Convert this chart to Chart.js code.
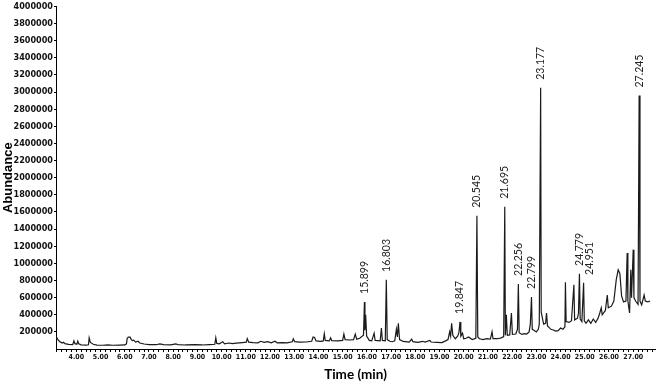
<!DOCTYPE html>
<html>
<head>
<meta charset="utf-8">
<script src="https://cdn.jsdelivr.net/npm/chart.js@4/dist/chart.umd.min.js"></script>
<style>
  html, body { margin: 0; padding: 0; background: #fff; }
  canvas { display: block; }
</style>
</head>
<body>
<canvas id="tic" width="658" height="385"></canvas>
<script>
// retention time (min) and abundance
const rtMin = [
  3.16, 3.22, 3.28, 3.35, 3.42, 3.47, 3.53, 3.68, 3.85, 3.90, 3.94, 4.02, 4.06, 4.10, 4.20, 4.40,
  4.50, 4.53, 4.58, 4.70, 4.85, 5.10, 5.30, 5.50, 5.80, 6.00, 6.07, 6.10, 6.15, 6.22, 6.27, 6.32,
  6.37, 6.45, 6.55, 6.62, 6.80, 7.00, 7.30, 7.45, 7.60, 7.90, 8.10, 8.20, 8.50, 8.90, 9.20, 9.50,
  9.72, 9.76, 9.80, 9.90, 10.05, 10.12, 10.30, 10.45, 10.60, 10.85, 11.02, 11.06, 11.12, 11.30,
  11.50, 11.62, 11.75, 11.90, 12.05, 12.20, 12.30, 12.50, 12.70, 12.92, 12.96, 13.02, 13.20, 13.50,
  13.72, 13.78, 13.84, 13.90, 14.10, 14.20, 14.24, 14.28, 14.45, 14.50, 14.55, 14.80, 15.00, 15.05,
  15.10, 15.30, 15.45, 15.52, 15.58, 15.70, 15.86, 15.899, 15.92, 15.95, 15.99, 16.10, 16.20, 16.30,
  16.34, 16.55, 16.60, 16.64, 16.76, 16.803, 16.84, 16.95, 17.05, 17.15, 17.22, 17.26, 17.30, 17.35,
  17.50, 17.75, 17.85, 17.90, 18.10, 18.30, 18.40, 18.60, 18.65, 18.90, 19.10, 19.25, 19.35, 19.42,
  19.46, 19.50, 19.55, 19.65, 19.75, 19.80, 19.847, 19.88, 19.95, 20.00, 20.10, 20.20, 20.35, 20.50,
  20.545, 20.58, 20.65, 20.80, 20.95, 21.10, 21.17, 21.21, 21.40, 21.55, 21.65, 21.695, 21.72, 21.76,
  21.80, 21.90, 21.97, 22.01, 22.15, 22.22, 22.256, 22.29, 22.40, 22.50, 22.60, 22.70, 22.75, 22.799,
  22.83, 22.90, 23.00, 23.08, 23.12, 23.177, 23.20, 23.25, 23.30, 23.38, 23.42, 23.46, 23.60, 23.70,
  23.80, 23.90, 24.00, 24.10, 24.18, 24.20, 24.23, 24.35, 24.45, 24.55, 24.58, 24.70, 24.74, 24.779,
  24.81, 24.88, 24.951, 24.98, 25.05, 25.15, 25.25, 25.35, 25.45, 25.55, 25.62, 25.68, 25.72, 25.85,
  25.93, 25.97, 26.10, 26.20, 26.30, 26.38, 26.45, 26.52, 26.60, 26.70, 26.75, 26.78, 26.85, 26.90,
  26.93, 27.00, 27.03, 27.10, 27.20, 27.245, 27.28, 27.35, 27.45, 27.50, 27.60, 27.70
];
const abundance = [
  150000, 118000, 96000, 80000, 70000, 78000, 62000, 53000, 50000, 95000, 62000, 56000, 92000, 62000, 49000, 45000,
  50000, 130000, 76000, 55000, 45000, 44000, 48000, 44000, 46000, 47000, 60000, 125000, 140000, 138000, 110000, 98000,
  103000, 80000, 90000, 70000, 58000, 52000, 50000, 60000, 52000, 48000, 60000, 52000, 47000, 50000, 47000, 52000,
  55000, 130000, 65000, 60000, 85000, 60000, 70000, 62000, 68000, 75000, 80000, 122000, 80000, 75000,
  72000, 90000, 78000, 85000, 72000, 90000, 72000, 75000, 72000, 85000, 118000, 85000, 80000, 82000,
  90000, 140000, 135000, 95000, 90000, 95000, 178000, 100000, 95000, 130000, 98000, 95000, 100000, 175000,
  110000, 105000, 110000, 175000, 115000, 125000, 160000, 550000, 220000, 400000, 150000, 100000, 95000, 185000,
  100000, 95000, 245000, 100000, 95000, 807000, 110000, 90000, 85000, 95000, 230000, 140000, 300000, 110000,
  88000, 80000, 115000, 85000, 78000, 90000, 80000, 100000, 82000, 78000, 75000, 95000, 110000, 200000,
  150000, 300000, 160000, 120000, 150000, 190000, 316000, 150000, 185000, 120000, 125000, 140000, 110000, 125000,
  1555000, 140000, 120000, 110000, 120000, 115000, 200000, 120000, 120000, 130000, 145000, 1660000, 160000, 400000,
  160000, 165000, 420000, 170000, 175000, 230000, 760000, 190000, 170000, 180000, 175000, 200000, 290000, 608000,
  230000, 220000, 200000, 230000, 290000, 3050000, 430000, 360000, 290000, 300000, 420000, 270000, 230000, 222000,
  210000, 215000, 245000, 230000, 260000, 780000, 320000, 310000, 330000, 750000, 340000, 360000, 420000, 877000,
  350000, 320000, 772000, 330000, 300000, 340000, 300000, 350000, 310000, 360000, 420000, 480000, 400000, 450000,
  630000, 480000, 500000, 560000, 810000, 925000, 880000, 620000, 550000, 560000, 1120000, 560000, 420000, 925000,
  600000, 1160000, 600000, 560000, 520000, 2960000, 560000, 515000, 630000, 560000, 550000, 560000
];

// labelled peaks
const peakTimes = [15.899, 16.803, 19.847, 20.545, 21.695, 22.256, 22.799, 23.177, 24.779, 24.951, 27.245];

// axis tick labels
const xTickValues = [4, 5, 6, 7, 8, 9, 10, 11, 12, 13, 14, 15, 16, 17, 18, 19, 20, 21, 22, 23, 24, 25, 26, 27];
const yTickValues = [200000, 400000, 600000, 800000, 1000000, 1200000, 1400000, 1600000, 1800000, 2000000,
  2200000, 2400000, 2600000, 2800000, 3000000, 3200000, 3400000, 3600000, 3800000, 4000000];

const points = rtMin.map((t, i) => ({ x: t, y: abundance[i] }));
const narrow = "'Liberation Sans Narrow', 'Arial Narrow', 'DejaVu Sans Condensed', sans-serif";

// rotated retention-time labels above the peaks
const peakLabels = {
  id: "peakLabels",
  afterDatasetsDraw(chart) {
    const { ctx, scales: { x, y } } = chart;
    const nudge = { 24.951: 6 }; // keep the two close labels apart
    ctx.save();
    ctx.font = "10.5px Lato, 'Open Sans', sans-serif";
    ctx.fillStyle = "#222";
    ctx.textAlign = "left";
    ctx.textBaseline = "middle";
    peakTimes.forEach(t => {
      const h = abundance[rtMin.indexOf(t)];
      ctx.save();
      ctx.translate(x.getPixelForValue(t) + (nudge[t] || 0), y.getPixelForValue(h) - 8);
      ctx.rotate(-Math.PI / 2);
      ctx.fillText(t.toFixed(3), 0, 0);
      ctx.restore();
    });
    ctx.restore();
  }
};

new Chart(document.getElementById("tic"), {
  type: "line",
  data: {
    datasets: [{
      data: points,
      borderColor: "#1a1a1a",
      borderWidth: 1.2,
      pointRadius: 0,
      tension: 0,
      fill: false
    }]
  },
  options: {
    responsive: false,
    animation: false,
    devicePixelRatio: 1,
    layout: { padding: { top: 0, right: 3, bottom: 0, left: 0 } },
    plugins: { legend: { display: false }, tooltip: { enabled: false } },
    scales: {
      x: {
        type: "linear",
        min: 3.16,
        max: 27.9,
        afterBuildTicks: s => {
          const ticks = [];
          for (let i = 16; i <= 139; i++) ticks.push({ value: i / 5 });
          s.ticks = ticks;
        },
        afterFit: s => { s.height = 36; },
        ticks: {
          autoSkip: false,
          maxRotation: 0,
          minRotation: 0,
          padding: 1,
          color: "#111",
          font: { family: narrow, size: 7, weight: "bold" },
          callback: v => xTickValues.includes(Math.round(v * 100) / 100) ? v.toFixed(2) : ""
        },
        grid: { drawOnChartArea: false, drawTicks: true, tickLength: 3, color: "#000" },
        border: { color: "#000", width: 1 },
        title: {
          display: true,
          text: "Time (min)",
          color: "#000",
          font: { family: "Lato, 'Open Sans', sans-serif", size: 13.5, weight: "bold" },
          padding: { top: 0, bottom: 2 }
        }
      },
      y: {
        type: "linear",
        min: 0,
        max: 4000000,
        afterBuildTicks: s => { s.ticks = yTickValues.map(v => ({ value: v })); },
        afterFit: s => { s.width = 56; },
        ticks: {
          padding: 1,
          color: "#111",
          font: { family: narrow, size: 9, weight: "bold" },
          callback: v => String(v)
        },
        grid: { drawOnChartArea: false, drawTicks: true, tickLength: 2, color: "#000" },
        border: { color: "#000", width: 1 },
        title: {
          display: true,
          text: "Abundance",
          color: "#000",
          font: { family: "'Liberation Sans', Arial, sans-serif", size: 13, weight: "bold" },
          padding: { top: 1, bottom: 0 }
        }
      }
    }
  },
  plugins: [peakLabels]
});
</script>
</body>
</html>
